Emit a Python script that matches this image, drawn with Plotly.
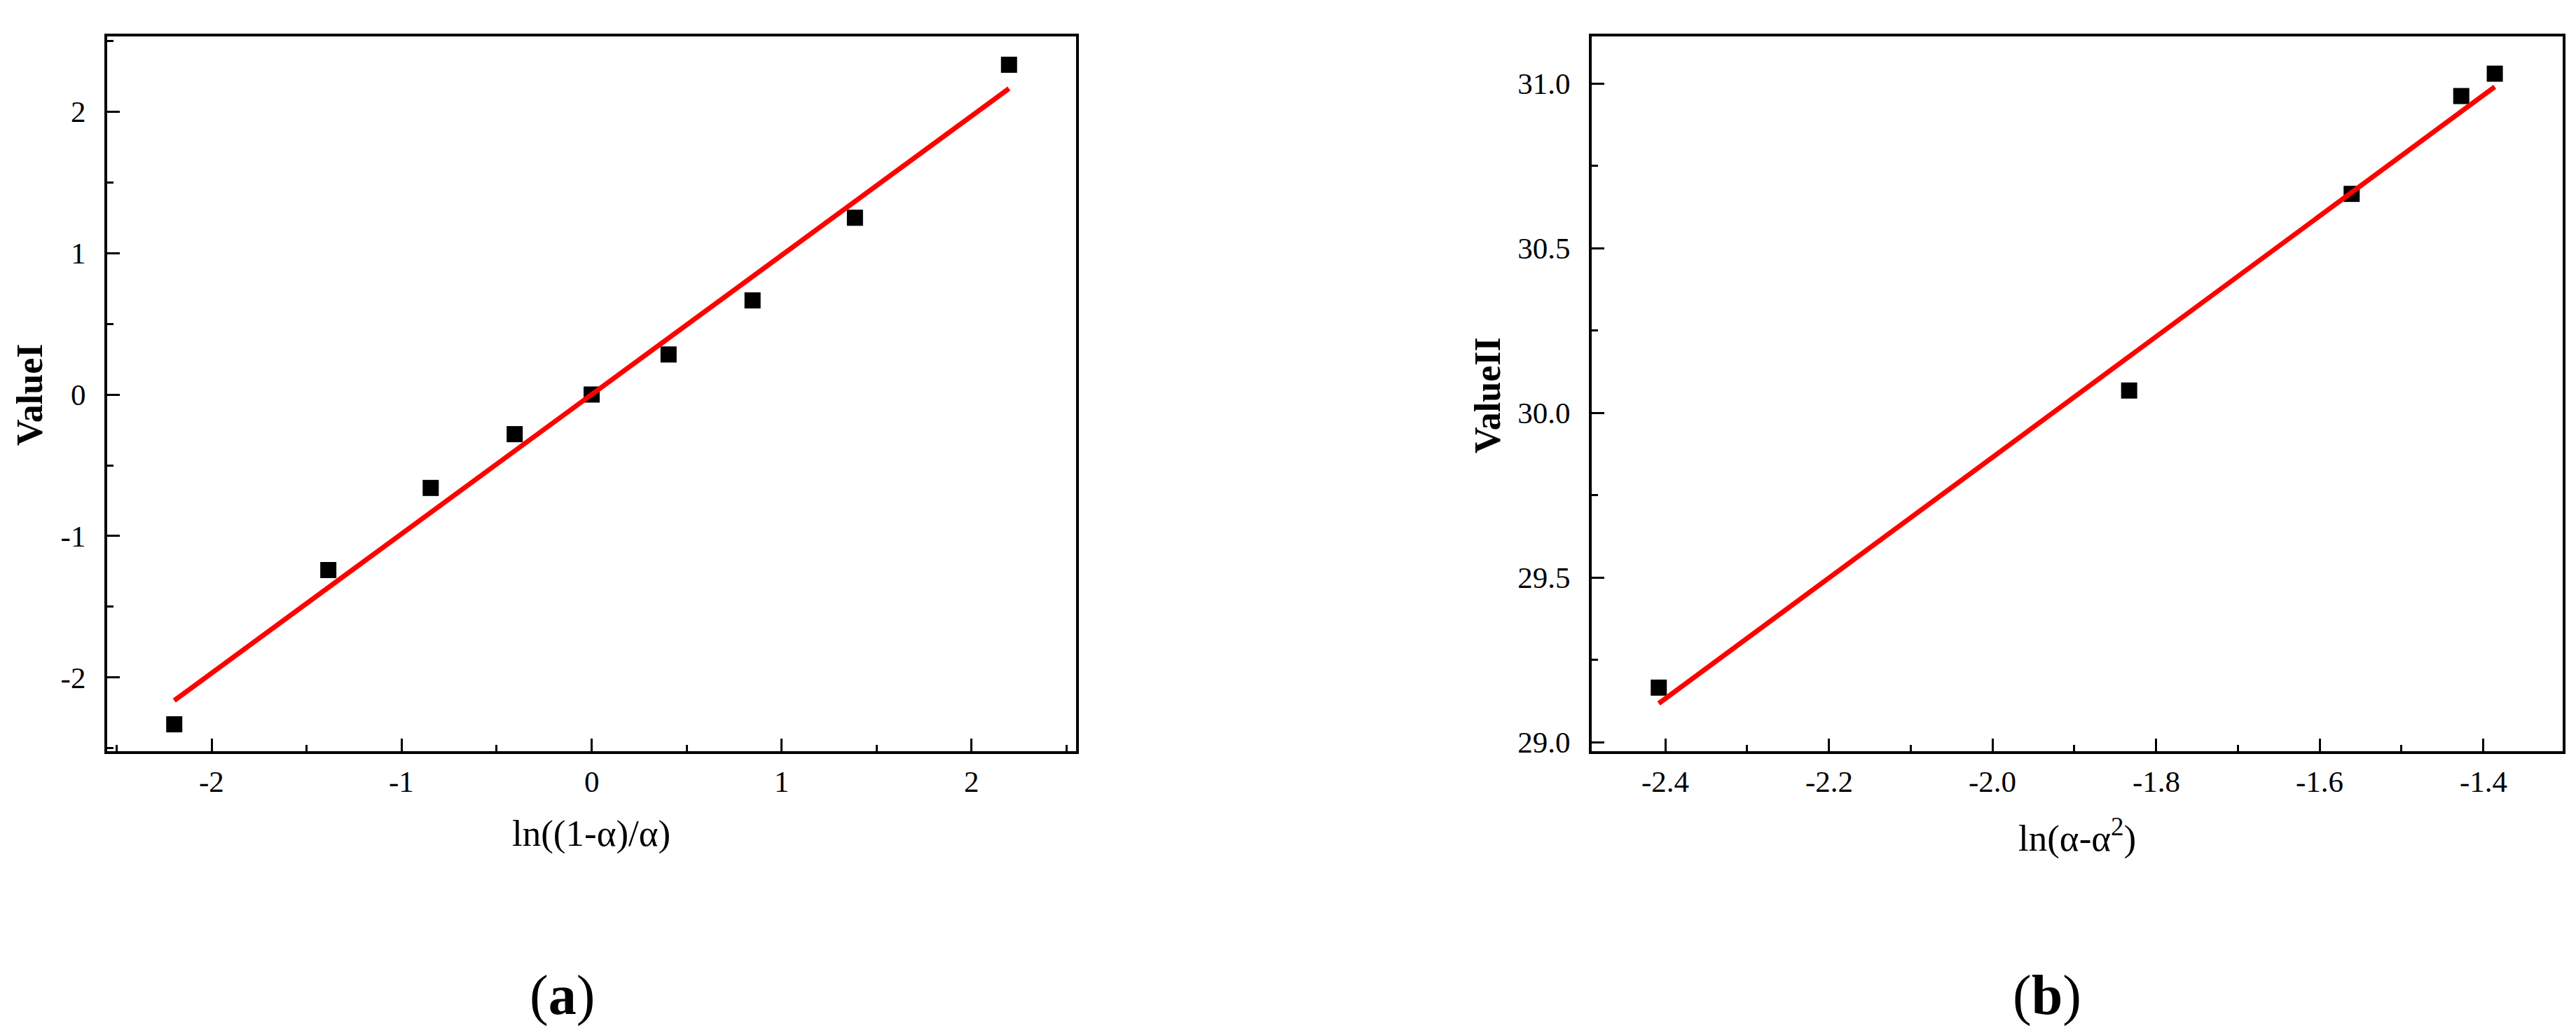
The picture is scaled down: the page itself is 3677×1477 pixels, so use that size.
import plotly.graph_objects as go

# Panel (a)
a_x = [-2.197, -1.386, -0.847, -0.405, 0.0, 0.405, 0.847, 1.386, 2.197]
a_y = [-2.33, -1.24, -0.66, -0.28, 0.0, 0.283, 0.665, 1.249, 2.33]
a_fit_x = [-2.197, 2.197]
a_fit_y = [-2.162, 2.162]
a_xticks = [-2, -1, 0, 1, 2]
a_xticklabels = ["-2", "-1", "0", "1", "2"]
a_yticks = [-2, -1, 0, 1, 2]
a_yticklabels = ["-2", "-1", "0", "1", "2"]

# Panel (b)
b_x = [-2.408, -1.833, -1.561, -1.427, -1.386]
b_y = [29.166, 30.068, 30.665, 30.962, 31.030]
b_fit_x = [-2.408, -1.386]
b_fit_y = [29.118, 30.99]
b_xticks = [-2.4, -2.2, -2.0, -1.8, -1.6, -1.4]
b_xticklabels = ["-2.4", "-2.2", "-2.0", "-1.8", "-1.6", "-1.4"]
b_yticks = [29.0, 29.5, 30.0, 30.5, 31.0]
b_yticklabels = ["29.0", "29.5", "30.0", "30.5", "31.0"]

FONT = "Liberation Serif"
W, H = 3677, 1477

fig = go.Figure()

fig.add_trace(go.Scatter(x=a_x, y=a_y, mode="markers",
                         marker=dict(symbol="square", color="black", size=23),
                         xaxis="x", yaxis="y", showlegend=False))
fig.add_trace(go.Scatter(x=a_fit_x, y=a_fit_y, mode="lines",
                         line=dict(color="#FF0000", width=7),
                         xaxis="x", yaxis="y", showlegend=False))
fig.add_trace(go.Scatter(x=b_x, y=b_y, mode="markers",
                         marker=dict(symbol="square", color="black", size=23),
                         xaxis="x2", yaxis="y2", showlegend=False))
fig.add_trace(go.Scatter(x=b_fit_x, y=b_fit_y, mode="lines",
                         line=dict(color="#FF0000", width=7),
                         xaxis="x2", yaxis="y2", showlegend=False))

ydom = [1 - 1064 / H, 1 - 44 / H]
xdom1 = [145 / W, 1528 / W]
xdom2 = [2264 / W, 3650 / W]

common = dict(showline=True, linecolor="black", linewidth=4, mirror=True,
              ticks="inside", ticklen=18, tickwidth=3, tickcolor="black",
              showgrid=False, zeroline=False, automargin=False,
              tickfont=dict(family=FONT, size=43, color="black"))

def minor(d):
    return dict(ticks="inside", ticklen=9, tickwidth=3, tickcolor="black",
                tick0=0, dtick=d, showgrid=False)

fig.update_layout(
    width=W, height=H,
    margin=dict(l=0, r=0, t=0, b=0),
    font=dict(family=FONT, color="black"),
    paper_bgcolor="white", plot_bgcolor="white",
    xaxis=dict(domain=xdom1, anchor="y", range=[-2.55, 2.55],
               tickmode="array", tickvals=a_xticks, showticklabels=False,
               minor=minor(0.5), **common),
    yaxis=dict(domain=ydom, anchor="x", range=[-2.52, 2.53],
               tickmode="array", tickvals=a_yticks, ticktext=a_yticklabels,
               minor=minor(0.5), ticklabelstandoff=18, **common),
    xaxis2=dict(domain=xdom2, anchor="y2", range=[-2.49, -1.303],
                tickmode="array", tickvals=b_xticks, showticklabels=False,
                minor=minor(0.1), **common),
    yaxis2=dict(domain=ydom, anchor="x2", range=[28.973, 31.143],
                tickmode="array", tickvals=b_yticks, ticktext=b_yticklabels,
                minor=minor(0.25), ticklabelstandoff=18, **common),
)

# x tick labels placed on the axes' own scales
for xref, vals, labels in (("x", a_xticks, a_xticklabels),
                           ("x2", b_xticks, b_xticklabels)):
    for v, t in zip(vals, labels):
        fig.add_annotation(text=t, x=v, xref=xref, y=1 - 1107 / H, yref="paper",
                           xanchor="center", yanchor="middle", showarrow=False,
                           font=dict(family=FONT, size=43, color="black"))

def ann(text, x, y, size, angle=0):
    fig.add_annotation(text=text,
                       x=x / W, y=1 - y / H, xref="paper", yref="paper",
                       xanchor="center", yanchor="middle", showarrow=False,
                       textangle=angle,
                       font=dict(family=FONT, size=size, color="black"))

ann("ln((1-α)/α)", 836, 1181, 53)
ann("<b>ValueI</b>", 34, 556, 52, angle=-90)
ann("ln(α-α<sup>2</sup>)", 2957, 1184, 53)
ann("<b>ValueII</b>", 2115, 556, 52, angle=-90)
ann("(<b>a</b>)", 794, 1412, 80)
ann("(<b>b</b>)", 2914, 1412, 80)

fig.write_html("out.html")
